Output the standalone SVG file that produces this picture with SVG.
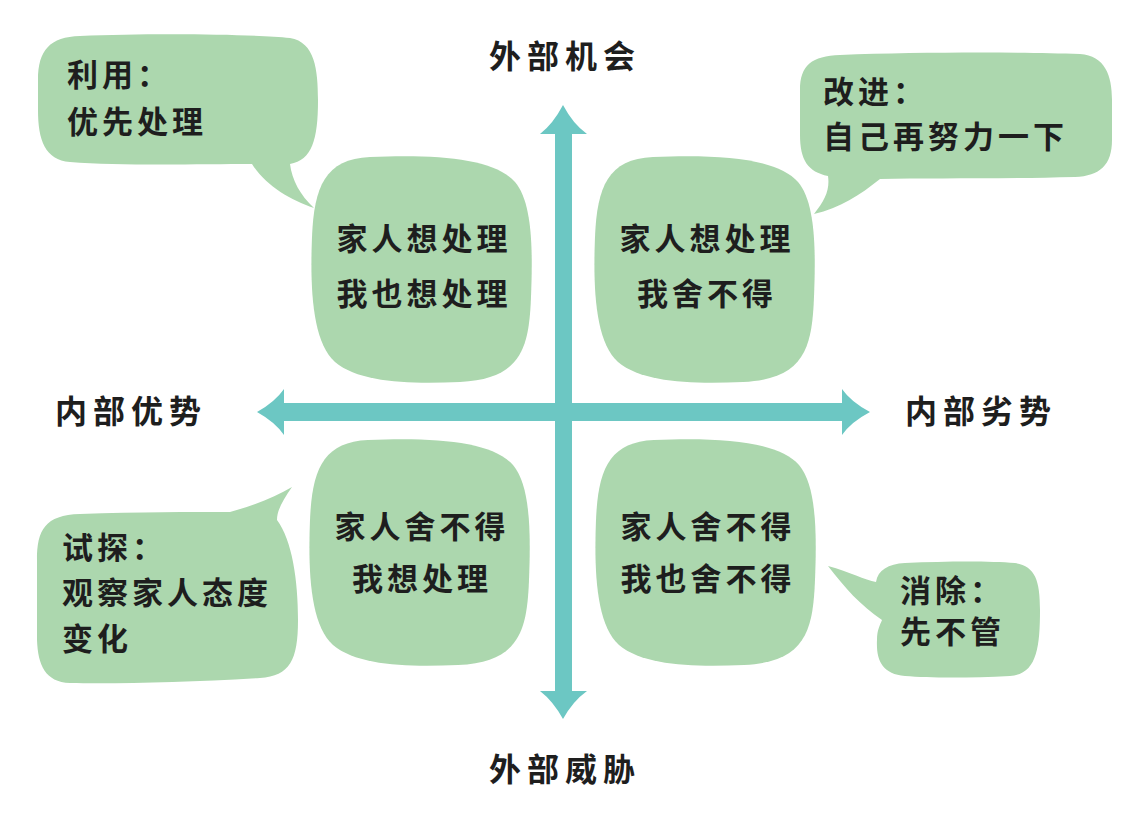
<svg xmlns="http://www.w3.org/2000/svg" width="1139" height="813" viewBox="0 0 1139 813">
<defs>
<style>
.g{fill:#acd7ae}
.ar{fill:#6cc7c3}
text{font-family:"Noto Sans CJK SC","Noto Sans",sans-serif;font-weight:700;fill:#1e1e1e}
.t{font-size:31px;letter-spacing:4px}
.c{text-anchor:middle}
.h{font-size:32px;letter-spacing:6px;text-anchor:middle}
</style>
<path id="blob" d="M 60 0 C 130 -3, 185 2, 205 25 C 222 45, 223 90, 221 140 C 219 190, 212 222, 150 225 C 100 227, 50 226, 25 205 C 2 185, 0 130, 2 80 C 4 30, 15 2, 60 0 Z"/>
</defs>
<rect width="1139" height="813" fill="#ffffff"/>

<g id="connectors">
<path class="ar" d="M 257 412 Q 275 402 284 389 L 284 403 L 842 403 L 842 389 Q 851 402 870 412 Q 851 422 842 435 L 842 421 L 284 421 L 284 435 Q 275 422 257 412 Z"/>
<path class="ar" d="M 563 105 Q 573 124 587 134 L 572 134 L 572 691 L 587 691 Q 573 701 563 719 Q 553 701 540 691 L 555 691 L 555 134 L 540 134 Q 553 124 563 105 Z"/>
</g>

<g id="label-top"><text class="h" x="565" y="68">外部机会</text></g>
<g id="label-bottom"><text class="h" x="565" y="781">外部威胁</text></g>
<g id="label-left"><text class="h" x="131" y="423">内部优势</text></g>
<g id="label-right"><text class="h" x="981" y="423">内部劣势</text></g>

<g id="box-tl">
<use href="#blob" class="g" transform="translate(310,157)"/>
<text class="t c" x="424" y="250">家人想处理</text>
<text class="t c" x="424" y="305">我也想处理</text>
</g>
<g id="box-tr">
<use href="#blob" class="g" transform="translate(593,157)"/>
<text class="t c" x="707" y="250">家人想处理</text>
<text class="t c" x="707" y="305">我舍不得</text>
</g>
<g id="box-bl">
<use href="#blob" class="g" transform="translate(308,440)"/>
<text class="t c" x="422" y="538">家人舍不得</text>
<text class="t c" x="422" y="590">我想处理</text>
</g>
<g id="box-br">
<use href="#blob" class="g" transform="translate(594,440)"/>
<text class="t c" x="708" y="538">家人舍不得</text>
<text class="t c" x="708" y="590">我也舍不得</text>
</g>

<g id="bubble-tl">
<path class="g" d="M 80 36 C 150 33, 250 34, 290 38 C 315 42, 318 70, 318 100 C 318 140, 312 160, 290 164 C 292 180, 300 195, 314 208 C 290 200, 265 185, 252 164 C 200 164, 120 166, 70 162 C 45 160, 38 140, 38 110 L 38 80 C 38 50, 50 37, 80 36 Z"/>
<text class="t" x="67" y="86">利用：</text>
<text class="t" x="67" y="133">优先处理</text>
</g>
<g id="bubble-tr">
<path class="g" d="M 840 55 C 920 52, 1020 52, 1080 54 C 1105 56, 1112 75, 1112 100 L 1112 140 C 1112 165, 1100 176, 1075 177 C 1000 179, 930 178, 880 179 C 860 195, 840 208, 814 214 C 825 200, 830 190, 828 176 C 808 172, 800 160, 800 135 L 800 90 C 800 65, 812 56, 840 55 Z"/>
<text class="t" x="823" y="103">改进：</text>
<text class="t" x="823" y="148">自己再努力一下</text>
</g>
<g id="bubble-bl">
<path class="g" d="M 37 560 C 37 530, 45 515, 80 514 C 140 512, 190 512, 230 512 C 255 505, 275 497, 292 487 C 283 500, 277 510, 277 520 C 292 540, 298 580, 298 620 C 298 660, 290 676, 260 678 C 190 682, 120 684, 70 683 C 45 682, 38 665, 37 640 Z"/>
<text class="t" x="62" y="559">试探：</text>
<text class="t" x="62" y="604">观察家人态度</text>
<text class="t" x="62" y="650">变化</text>
</g>
<g id="bubble-br">
<path class="g" d="M 905 563 C 950 561, 990 561, 1015 563 C 1035 566, 1040 580, 1040 610 C 1040 650, 1036 674, 1010 676 C 970 678, 930 678, 905 676 C 882 674, 876 660, 877 640 C 877 630, 880 625, 882 620 C 860 605, 845 588, 828 566 C 850 572, 865 580, 876 582 C 878 570, 888 564, 905 563 Z"/>
<text class="t" x="900" y="602">消除：</text>
<text class="t" x="900" y="643">先不管</text>
</g>
</svg>
